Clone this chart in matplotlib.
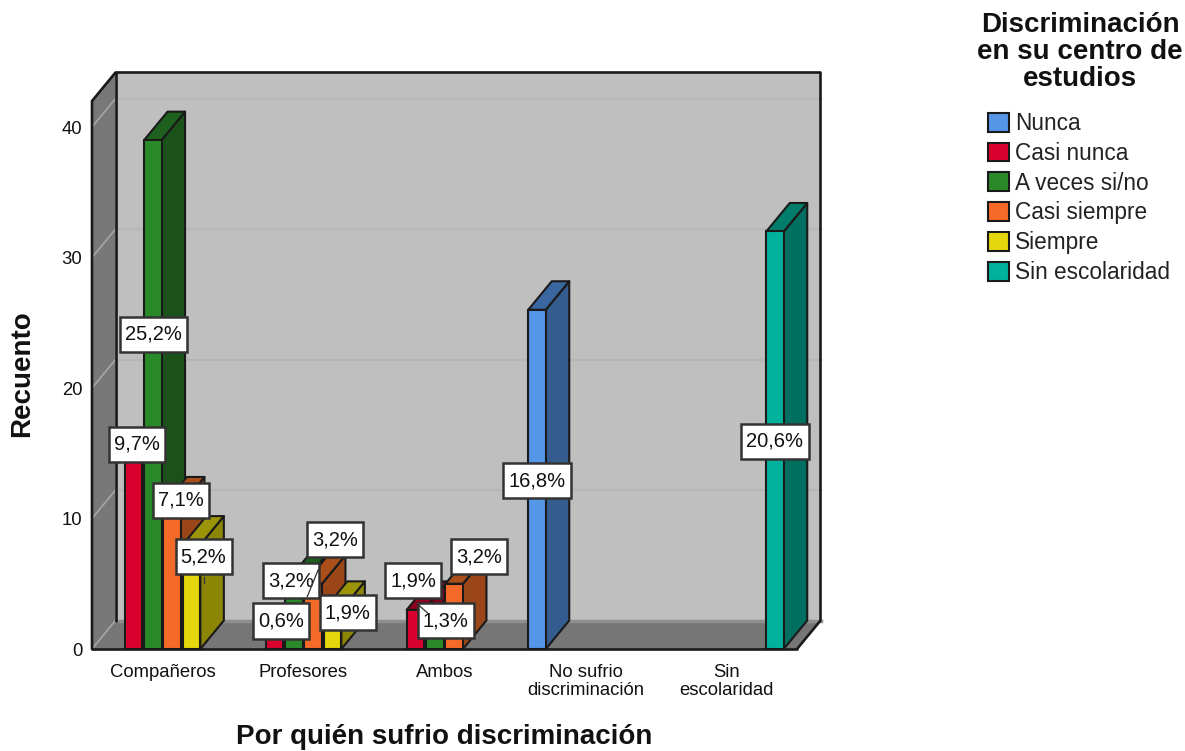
import matplotlib
matplotlib.use('Agg')
import matplotlib.pyplot as plt
from matplotlib.patches import Patch, Polygon

plt.rcParams['font.family'] = ['Liberation Sans', 'DejaVu Sans']

categories = ['Compañeros', 'Profesores', 'Ambos', 'No sufrio\ndiscriminación', 'Sin\nescolaridad']
series_names = ['Nunca', 'Casi nunca', 'A veces si/no', 'Casi siempre', 'Siempre', 'Sin escolaridad']

# counts per category, one list per series (0 = no bar)
nunca = [0, 0, 0, 26, 0]
casi_nunca = [15, 1, 3, 0, 0]
a_veces = [39, 5, 2, 0, 0]
casi_siempre = [11, 5, 5, 0, 0]
siempre = [8, 3, 0, 0, 0]
sin_escolaridad = [0, 0, 0, 0, 32]
series_values = [nunca, casi_nunca, a_veces, casi_siempre, siempre, sin_escolaridad]

# percent labels in the same layout
pct_nunca = ['', '', '', '16,8%', '']
pct_casi_nunca = ['9,7%', '0,6%', '1,9%', '', '']
pct_a_veces = ['25,2%', '3,2%', '1,3%', '', '']
pct_casi_siempre = ['7,1%', '3,2%', '3,2%', '', '']
pct_siempre = ['5,2%', '1,9%', '', '', '']
pct_sin_escolaridad = ['', '', '', '', '20,6%']
series_pct = [pct_nunca, pct_casi_nunca, pct_a_veces, pct_casi_siempre, pct_siempre, pct_sin_escolaridad]

y_ticks = [0, 10, 20, 30, 40]

front_colors = ['#5596e6', '#d9002e', '#2a8a2a', '#f56a28', '#e4d80c', '#00b29b']
side_colors = ['#345c8e', '#80001c', '#1a521a', '#9a4618', '#8c8506', '#006f60']
top_colors = ['#3a67a0', '#8f0020', '#1e601e', '#aa4e1a', '#9c9408', '#007c6a']
edge = '#1a1a1a'

fig = plt.figure(figsize=(11.85, 7.51), dpi=100)
ax = fig.add_axes([92 / 1185, (751 - 649) / 751, 705 / 1185, 548 / 751])
ax.set_xlim(-0.5, 4.5)
ax.set_ylim(0, 42)
for s in ax.spines.values():
    s.set_visible(False)
ax.patch.set_visible(False)

# pixels per data unit, used for the pseudo 3D depth and label nudges
cat_px = 705 / 5
val_px = 548 / 42
depth_x = 23.5 / cat_px
depth_y = 28.5 / val_px
slot = 19.4 / cat_px
bar_w = 17.5 / cat_px


def shape(points, color, z, line=True):
    ax.add_patch(Polygon(points, closed=True, facecolor=color, edgecolor=edge if line else 'none', lw=1.5,
                         clip_on=False, zorder=z, joinstyle='round'))


def edge_line(xs, ys):
    ax.plot(xs, ys, color=edge, lw=1.9, zorder=1.6, clip_on=False, solid_capstyle='round')


# walls and floor
x0, x1 = ax.get_xlim()
y1 = ax.get_ylim()[1]
bx0, bx1, by0, by1 = x0 + depth_x, x1 + depth_x, depth_y, y1 + depth_y
shape([(bx0, by0), (bx1, by0), (bx1, by1), (bx0, by1)], '#bfbfbf', 1, line=False)
shape([(x0, 0), (bx0, by0), (bx0, by1), (x0, y1)], '#787878', 1.1, line=False)
shape([(x0, 0), (x1, 0), (bx1, by0), (bx0, by0)], '#767676', 1.2, line=False)
ax.plot([bx0, bx1], [by0, by0], color='#8e8e8e', lw=2.5, zorder=1.3, clip_on=False)
for t in y_ticks:
    if t > 0:
        ax.plot([bx0, bx1], [t + by0, t + by0], color='#b6b6b6', lw=1.6, zorder=1.3, clip_on=False)
    ax.plot([x0, bx0], [t, t + by0], color='#a6a6a6', lw=1.2, zorder=1.3, clip_on=False)

edge_line([x0, x1], [0, 0])
edge_line([x1, bx1, bx1, bx0, x0, x0], [0, by0, by1, by1, y1, 0])
edge_line([bx0, bx0], [by0, by1])

# bars, left to right so nearer ones cover the sides of the previous
z = 2
for g in range(len(categories)):
    for s, values in enumerate(series_values):
        v = values[g]
        if v == 0:
            continue
        xc = g + (s - 2.5) * slot
        l, r = xc - bar_w / 2, xc + bar_w / 2
        shape([(r, 0), (r + depth_x, depth_y), (r + depth_x, v + depth_y), (r, v)], side_colors[s], z)
        shape([(l, v), (r, v), (r + depth_x, v + depth_y), (l + depth_x, v + depth_y)], top_colors[s], z + 0.1)
        ax.bar(xc, v, width=bar_w, color=front_colors[s], edgecolor=edge, lw=1.5, zorder=z + 0.2, clip_on=False)
        z += 0.3

# nudges of the labels from the top centre of each bar, in pixels
label_nudge = {
    (0, 2): (1, -194), (0, 1): (4, 9), (0, 3): (9, 5), (0, 4): (12, -12),
    (1, 1): (7, 15), (1, 2): (-3, 3), (1, 3): (22, 44), (1, 4): (15, -3),
    (2, 1): (-2, 29), (2, 2): (11, 2), (2, 3): (25, 27),
    (3, 0): (0, -171), (4, 5): (0, -210),
}
for (g, s), (dx, dy) in label_nudge.items():
    xc = g + (s - 2.5) * slot
    ax.annotate(series_pct[s][g], xy=(xc, series_values[s][g]), xytext=(dx, dy), textcoords='offset pixels',
                ha='center', va='center', fontsize=14.5, color='#111111', zorder=20, annotation_clip=False,
                bbox=dict(boxstyle='square,pad=0.25', mutation_aspect=1.6, facecolor='white',
                          edgecolor='#333333', lw=1.8))

# leader lines that run from the labels to their bars
leaders = [(1, 3, (-6, -13), (5, 14)), (2, 1, (3, 5), (12, -3)), (0, 4, (12, -32), (12, -38))]
for g, s, a, b in leaders:
    xc = g + (s - 2.5) * slot
    v = series_values[s][g]
    ax.plot([xc + a[0] / cat_px, xc + b[0] / cat_px], [v + a[1] / val_px, v + b[1] / val_px],
            color='#333333', lw=0.9, zorder=21, clip_on=False)

ax.set_xticks(range(len(categories)))
ax.set_xticklabels(categories, fontsize=13.3, linespacing=1.05, color='#111111')
ax.set_yticks(y_ticks)
ax.set_yticklabels([str(t) for t in y_ticks], fontsize=13.3, color='#111111')
ax.tick_params(axis='both', length=0)
ax.tick_params(axis='x', pad=11)
ax.tick_params(axis='y', pad=7)

fig.text(444 / 1185, 1 - 737.5 / 751, 'Por quién sufrio discriminación', fontsize=20, fontweight='bold',
         ha='center', va='center', color='#111111')
fig.text(22 / 1185, 1 - 374 / 751, 'Recuento', fontsize=20, fontweight='bold', rotation=90,
         ha='center', va='center', color='#111111')

fig.text(1080 / 1185, 1 - 52 / 751, 'Discriminación\nen su centro de\nestudios', fontsize=20, fontweight='bold',
         ha='center', va='center', linespacing=1.07, color='#111111')

handles = [Patch(facecolor=c, edgecolor=edge, lw=1.5) for c in front_colors]
leg = fig.legend(handles, series_names, loc='upper left', bbox_to_anchor=(988 / 1185, 1 - 112 / 751),
                 frameon=False, fontsize=16.3, borderpad=0, borderaxespad=0,
                 handlelength=0.93, handleheight=0.9, handletextpad=0.27, labelspacing=0.3)
for t in leg.get_texts():
    t.set_color('#222222')

fig.savefig('out.png', dpi=100)
